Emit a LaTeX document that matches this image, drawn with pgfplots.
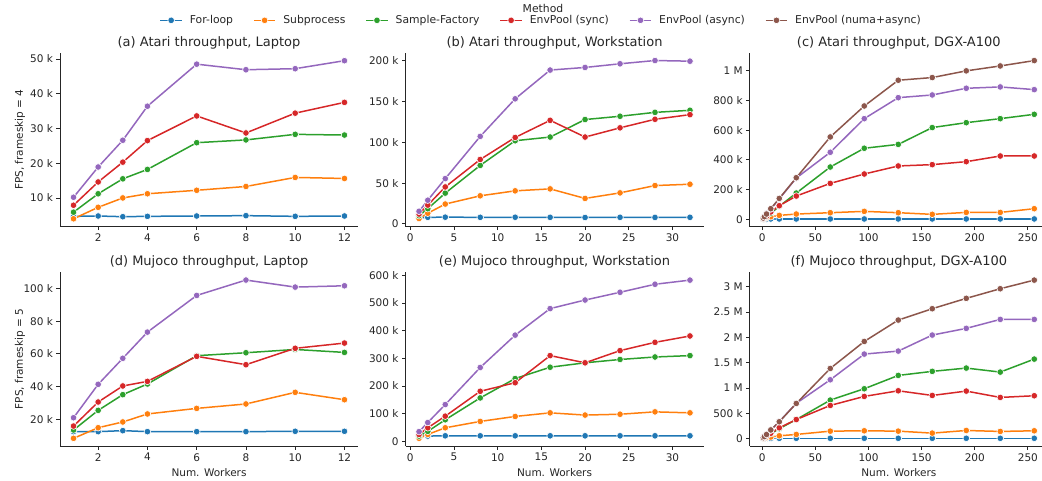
\documentclass[border=0pt]{standalone}
\usepackage{fontspec}
\setmainfont{DejaVu Sans}
\usepackage{pgfplots}
\pgfplotsset{compat=1.18}
\definecolor{cA}{HTML}{1F77B4}
\definecolor{cB}{HTML}{FF7F0E}
\definecolor{cC}{HTML}{2CA02C}
\definecolor{cD}{HTML}{D62728}
\definecolor{cE}{HTML}{9467BD}
\definecolor{cF}{HTML}{8C564B}
\definecolor{txt}{HTML}{262626}
\newcommand{\fs}{\fontsize{10.5}{12}\selectfont}
\newcommand{\fl}{\fontsize{10.8}{12}\selectfont}
\pgfplotsset{
  every axis title shift=0pt,
  base/.style={
    scale only axis, width=298pt, height=174pt, anchor=south west,
    axis lines=left, axis line style={-, draw=txt, line width=0.8pt},
    tick align=outside, major tick length=3.5pt,
    tick style={draw=txt, line width=0.8pt},
    tick label style={font=\fs, text=txt},
    label style={font=\fs, text=txt},
    title style={font=\fontsize{13}{15}\selectfont, text=txt, at={(axis description cs:0.5,1.057)}, anchor=center},
    every axis plot/.append style={line width=1.5pt, mark=*, mark size=3.3pt, mark options={draw=white, line width=0.6pt}},
    /pgf/number format/assume math mode=true,
    xlabel style={at={(axis description cs:0.5,-0.152)}, anchor=center},
    ylabel style={at={(axis description cs:-0.134,0.5)}, anchor=center},
  },
  lap/.style={base, xmin=0.45, xmax=12.55, xtick={2,4,6,8,10,12}},
  ws/.style={base, xmin=-0.55, xmax=33.55, xtick={0,5,10,15,20,25,30}},
  dgx/.style={base, xmin=-11.75, xmax=268.75, xtick={0,50,100,150,200,250}},
}
\begin{document}
\begin{tikzpicture}
% (a)
\begin{axis}[lap, at={(60pt,253.3pt)}, ymin=1.72, ymax=51.8,
  ytick={10,20,30,40,50}, yticklabels={10 k,20 k,30 k,40 k,50 k},
  title={(a) Atari throughput, Laptop}, ylabel={FPS, frameskip = 4}]
\addplot[cA] coordinates {(1,4.7)(2,4.8)(3,4.6)(4,4.7)(6,4.8)(8,4.9)(10,4.7)(12,4.8)};
\addplot[cB] coordinates {(1,4.0)(2,7.3)(3,10.0)(4,11.2)(6,12.2)(8,13.3)(10,15.9)(12,15.6)};
\addplot[cC] coordinates {(1,5.9)(2,11.2)(3,15.5)(4,18.2)(6,25.9)(8,26.7)(10,28.3)(12,28.1)};
\addplot[cD] coordinates {(1,7.9)(2,14.6)(3,20.3)(4,26.5)(6,33.6)(8,28.7)(10,34.4)(12,37.5)};
\addplot[cE] coordinates {(1,10.2)(2,18.9)(3,26.6)(4,36.4)(6,48.5)(8,46.9)(10,47.2)(12,49.5)};
\end{axis}
% (b)
\begin{axis}[ws, at={(405.5pt,253.3pt)}, ymin=-3.5, ymax=210,
  ytick={0,50,100,150,200}, yticklabels={0,50 k,100 k,150 k,200 k},
  title={(b) Atari throughput, Workstation}]
\addplot[cA] coordinates {(1,7.5)(2,8.0)(4,8.2)(8,8.0)(12,8.1)(16,8.0)(20,7.8)(24,8.0)(28,7.9)(32,8.0)};
\addplot[cB] coordinates {(1,6.5)(2,13)(4,24.3)(8,34.4)(12,40.5)(16,42.9)(20,31.2)(24,38)(28,47)(32,48.6)};
\addplot[cC] coordinates {(1,10)(2,18.6)(4,37.7)(8,71.7)(12,102)(16,106.5)(20,128)(24,132)(28,136.8)(32,139.3)};
\addplot[cD] coordinates {(1,12)(2,23)(4,45.3)(8,79)(12,106)(16,127)(20,106.5)(24,117.8)(28,128.3)(32,134)};
\addplot[cE] coordinates {(1,15.4)(2,29)(4,55.5)(8,107.3)(12,153.4)(16,188.7)(20,191.9)(24,196.4)(28,200.4)(32,199.6)};
\end{axis}
% (c)
\begin{axis}[dgx, at={(749.8pt,253.3pt)}, ymin=-49, ymax=1120, clip=false,
  ytick={0,200,400,600,800,1000}, yticklabels={0,200 k,400 k,600 k,800 k,1 M},
  title={(c) Atari throughput, DGX-A100},
  legend style={at={(-0.700,1.186)}, anchor=center, draw=none, fill=none, font=\fl, text=txt,
    legend columns=6,
    /tikz/every odd column/.append style={column sep=5.2pt},
    /tikz/every even column/.append style={column sep=18pt}},
  legend image code/.code={\draw[mark repeat=2,mark phase=2] plot coordinates {(0pt,0pt) (10.8pt,0pt) (21.6pt,0pt)};}]
\addplot[cA] coordinates {(1,3)(2,3)(4,3)(8,3)(16,3)(32,3)(64,3)(96,3)(128,3)(160,3)(192,3)(224,3)(256,3)};
\addlegendentry{For-loop}
\addplot[cB] coordinates {(1,3)(2,6)(4,11)(8,18)(16,27)(32,36)(64,45)(96,54)(128,45)(160,34)(192,47)(224,47)(256,72)};
\addlegendentry{Subprocess}
\addplot[cC] coordinates {(1,4)(2,8)(4,18)(8,42)(16,88)(32,177)(64,352)(96,478)(128,504)(160,617)(192,650)(224,677)(256,706)};
\addlegendentry{Sample-Factory}
\addplot[cD] coordinates {(1,5)(2,10)(4,22)(8,50)(16,92)(32,157)(64,242)(96,305)(128,359)(160,368)(192,388)(224,426)(256,426)};
\addlegendentry{EnvPool (sync)}
\addplot[cE] coordinates {(1,9)(2,19)(4,40)(8,70)(16,138)(32,278)(64,451)(96,677)(128,818)(160,836)(192,881)(224,890)(256,872)};
\addlegendentry{EnvPool (async)}
\addplot[cF] coordinates {(1,9)(2,18)(4,36)(8,72)(16,141)(32,280)(64,554)(96,762)(128,935)(160,953)(192,998)(224,1031)(256,1067)};
\addlegendentry{EnvPool (numa+async)}
\node[font=\fl, text=txt] at (axis description cs:-0.694,1.252) {Method};
\end{axis}
% (d)
\begin{axis}[lap, at={(60pt,33.8pt)}, ymin=3.6, ymax=109.9,
  ytick={20,40,60,80,100}, yticklabels={20 k,40 k,60 k,80 k,100 k},
  title={(d) Mujoco throughput, Laptop}, ylabel={FPS, frameskip = 5}, xlabel={Num. Workers}]
\addplot[cA] coordinates {(1,12.5)(2,12.5)(3,13.1)(4,12.5)(6,12.5)(8,12.5)(10,12.7)(12,12.7)};
\addplot[cB] coordinates {(1,8.4)(2,14.9)(3,18.4)(4,23.3)(6,26.7)(8,29.4)(10,36.5)(12,32.0)};
\addplot[cC] coordinates {(1,13.5)(2,25.5)(3,35.1)(4,41.6)(6,58.9)(8,60.7)(10,62.7)(12,60.9)};
\addplot[cD] coordinates {(1,15.9)(2,30.6)(3,40.4)(4,43.2)(6,58.5)(8,53.4)(10,63.4)(12,66.6)};
\addplot[cE] coordinates {(1,21.0)(2,41.4)(3,57.3)(4,73.3)(6,95.7)(8,105.1)(10,100.8)(12,101.6)};
\end{axis}
% (e)
\begin{axis}[ws, at={(405.5pt,33.8pt)}, ymin=-17.6, ymax=611.6,
  ytick={0,100,200,300,400,500,600}, yticklabels={0,100 k,200 k,300 k,400 k,500 k,600 k},
  title={(e) Mujoco throughput, Workstation}, xlabel={Num. Workers}]
\addplot[cA] coordinates {(1,18)(2,19)(4,20)(8,20)(12,20)(16,20)(20,20)(24,20)(28,20)(32,20)};
\addplot[cB] coordinates {(1,11)(2,25)(4,49)(8,72)(12,90)(16,103)(20,95)(24,98)(28,106.6)(32,103)};
\addplot[cC] coordinates {(1,19)(2,36)(4,78)(8,157)(12,227)(16,268)(20,284)(24,296)(28,305)(32,310)};
\addplot[cD] coordinates {(1,25)(2,49)(4,91)(8,181)(12,212)(16,310)(20,284)(24,328)(28,358)(32,381)};
\addplot[cE] coordinates {(1,35)(2,68)(4,133)(8,267)(12,384)(16,480)(20,511)(24,539)(28,568)(32,583)};
\end{axis}
% (f)
\begin{axis}[dgx, at={(749.8pt,33.8pt)}, ymin=-0.146, ymax=3.286,
  ytick={0,0.5,1,1.5,2,2.5,3}, yticklabels={0,500 k,1 M,1.5 M,2 M,2.5 M,3 M},
  title={(f) Mujoco throughput, DGX-A100}, xlabel={Num. Workers}]
\addplot[cA] coordinates {(1,0.01)(2,0.01)(4,0.01)(8,0.01)(16,0.01)(32,0.01)(64,0.01)(96,0.01)(128,0.01)(160,0.01)(192,0.01)(224,0.01)(256,0.01)};
\addplot[cB] coordinates {(1,0.01)(2,0.015)(4,0.025)(8,0.035)(16,0.059)(32,0.086)(64,0.151)(96,0.158)(128,0.151)(160,0.112)(192,0.164)(224,0.145)(256,0.158)};
\addplot[cC] coordinates {(1,0.015)(2,0.03)(4,0.055)(8,0.1)(16,0.2)(32,0.38)(64,0.763)(96,0.987)(128,1.25)(160,1.33)(192,1.395)(224,1.316)(256,1.572)};
\addplot[cD] coordinates {(1,0.015)(2,0.03)(4,0.06)(8,0.11)(16,0.217)(32,0.38)(64,0.658)(96,0.836)(128,0.947)(160,0.855)(192,0.941)(224,0.816)(256,0.849)};
\addplot[cE] coordinates {(1,0.022)(2,0.045)(4,0.086)(8,0.17)(16,0.34)(32,0.70)(64,1.164)(96,1.671)(128,1.73)(160,2.046)(192,2.178)(224,2.355)(256,2.355)};
\addplot[cF] coordinates {(1,0.022)(2,0.044)(4,0.085)(8,0.175)(16,0.336)(32,0.697)(64,1.388)(96,1.92)(128,2.342)(160,2.566)(192,2.77)(224,2.96)(256,3.13)};
\end{axis}
\pgfresetboundingbox
\useasboundingbox (0pt,0pt) rectangle (1042pt,480pt);
\end{tikzpicture}
\end{document}
